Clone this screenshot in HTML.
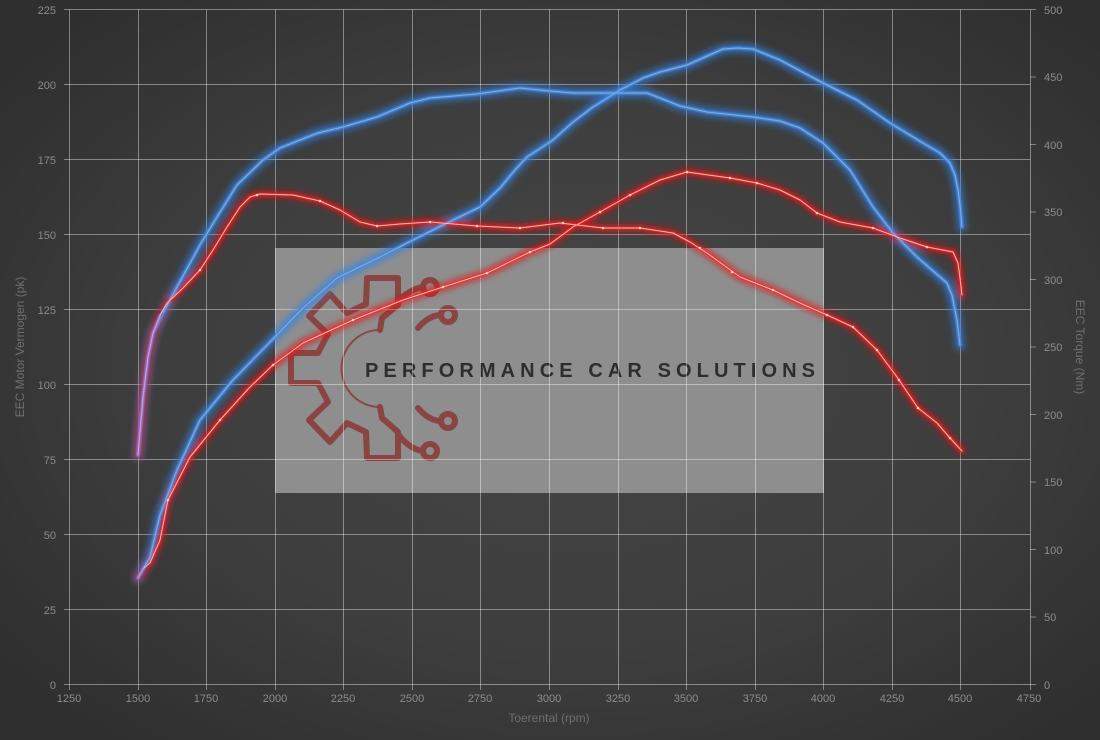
<!DOCTYPE html>
<html><head><meta charset="utf-8"><style>
html,body{margin:0;padding:0;background:#3a3a3a;}
svg{display:block;font-family:"Liberation Sans",sans-serif;}
</style></head><body>
<svg width="1100" height="740" viewBox="0 0 1100 740" xmlns="http://www.w3.org/2000/svg">
<defs>
<radialGradient id="bg" cx="52%" cy="50%" r="65%">
<stop offset="0" stop-color="#474747"/>
<stop offset="0.6" stop-color="#3d3d3d"/>
<stop offset="1" stop-color="#2f2f2f"/>
</radialGradient>
<filter id="glow" x="-10%" y="-10%" width="120%" height="120%"><feGaussianBlur stdDeviation="3"/></filter>
<filter id="soft" x="-10%" y="-10%" width="120%" height="120%"><feGaussianBlur stdDeviation="0.7"/></filter>
</defs>
<rect width="1100" height="740" fill="url(#bg)"/>

<!-- watermark box -->
<rect x="275" y="248" width="549" height="245" fill="#8e8e8e"/>

<!-- gear logo -->
<g fill="none" stroke="#8a3f3c" stroke-width="6" stroke-linejoin="round" stroke-linecap="round" opacity="0.92">
<path d="M398,305 L398,278 L367,278 L366,304 L347,313 L330,294 L309,316 L328,334 L318,353 L291,353 L291,383 L318,383 L328,402 L309,420 L330,442 L347,423 L366,432 L367,458 L398,458 L398,432"/>
<path d="M398,305 L382,318 L380,330"/>
<path d="M398,432 L382,418 L380,407"/>
<path d="M398,302 Q408,290 422,287"/>
<path d="M418,328 Q428,316 440,315"/>
<path d="M418,408 Q428,420 440,421"/>
<path d="M398,434 Q408,448 422,451"/>
<circle cx="430" cy="287" r="7"/>
<circle cx="448" cy="315" r="7"/>
<circle cx="448" cy="421" r="7"/>
<circle cx="430" cy="451" r="7"/>
</g>
<path d="M380,330 A38,38 0 0 0 380,407" fill="none" stroke="#8a3f3c" stroke-width="2" opacity="0.9"/>
<text x="365" y="377" font-size="20" font-weight="bold" fill="#2e2e2e" textLength="450" lengthAdjust="spacing">PERFORMANCE CAR SOLUTIONS</text>

<!-- grid -->
<g stroke="#ffffff" stroke-opacity="0.4" stroke-width="1">
<line x1="69.5" y1="9.5" x2="69.5" y2="690"/>
<line x1="138.5" y1="9.5" x2="138.5" y2="690"/>
<line x1="206.5" y1="9.5" x2="206.5" y2="690"/>
<line x1="275.5" y1="9.5" x2="275.5" y2="690"/>
<line x1="343.5" y1="9.5" x2="343.5" y2="690"/>
<line x1="412.5" y1="9.5" x2="412.5" y2="690"/>
<line x1="480.5" y1="9.5" x2="480.5" y2="690"/>
<line x1="549.5" y1="9.5" x2="549.5" y2="690"/>
<line x1="618.5" y1="9.5" x2="618.5" y2="690"/>
<line x1="686.5" y1="9.5" x2="686.5" y2="690"/>
<line x1="755.5" y1="9.5" x2="755.5" y2="690"/>
<line x1="823.5" y1="9.5" x2="823.5" y2="690"/>
<line x1="892.5" y1="9.5" x2="892.5" y2="690"/>
<line x1="960.5" y1="9.5" x2="960.5" y2="690"/>
<line x1="1030.5" y1="9.5" x2="1030.5" y2="690"/>
<line x1="64" y1="9.5" x2="1030" y2="9.5"/>
<line x1="64" y1="84.5" x2="1030" y2="84.5"/>
<line x1="64" y1="159.5" x2="1030" y2="159.5"/>
<line x1="64" y1="234.5" x2="1030" y2="234.5"/>
<line x1="64" y1="309.5" x2="1030" y2="309.5"/>
<line x1="64" y1="384.5" x2="1030" y2="384.5"/>
<line x1="64" y1="459.5" x2="1030" y2="459.5"/>
<line x1="64" y1="534.5" x2="1030" y2="534.5"/>
<line x1="64" y1="609.5" x2="1030" y2="609.5"/>
<line x1="64" y1="684.5" x2="1030" y2="684.5"/>
<line x1="1030" y1="9.5" x2="1036" y2="9.5"/>
<line x1="1030" y1="77" x2="1036" y2="77"/>
<line x1="1030" y1="144.5" x2="1036" y2="144.5"/>
<line x1="1030" y1="212" x2="1036" y2="212"/>
<line x1="1030" y1="279.5" x2="1036" y2="279.5"/>
<line x1="1030" y1="347" x2="1036" y2="347"/>
<line x1="1030" y1="414.5" x2="1036" y2="414.5"/>
<line x1="1030" y1="482" x2="1036" y2="482"/>
<line x1="1030" y1="549.5" x2="1036" y2="549.5"/>
<line x1="1030" y1="617" x2="1036" y2="617"/>
<line x1="1030" y1="684.5" x2="1036" y2="684.5"/>
</g>

<!-- tick labels -->
<g font-size="11" fill="#8c8c8c">
<g text-anchor="end">
<text x="56" y="14">225</text>
<text x="56" y="89">200</text>
<text x="56" y="164">175</text>
<text x="56" y="239">150</text>
<text x="56" y="314">125</text>
<text x="56" y="389">100</text>
<text x="56" y="464">75</text>
<text x="56" y="539">50</text>
<text x="56" y="614">25</text>
<text x="56" y="689">0</text>
</g>
<g text-anchor="start">
<text x="1044" y="14">500</text>
<text x="1044" y="81">450</text>
<text x="1044" y="149">400</text>
<text x="1044" y="216">350</text>
<text x="1044" y="284">300</text>
<text x="1044" y="351">250</text>
<text x="1044" y="419">200</text>
<text x="1044" y="486">150</text>
<text x="1044" y="554">100</text>
<text x="1044" y="621">50</text>
<text x="1044" y="689">0</text>
</g>
<g text-anchor="middle">
<text x="69" y="702">1250</text>
<text x="138" y="702">1500</text>
<text x="206" y="702">1750</text>
<text x="275" y="702">2000</text>
<text x="343" y="702">2250</text>
<text x="412" y="702">2500</text>
<text x="480" y="702">2750</text>
<text x="549" y="702">3000</text>
<text x="618" y="702">3250</text>
<text x="686" y="702">3500</text>
<text x="755" y="702">3750</text>
<text x="823" y="702">4000</text>
<text x="892" y="702">4250</text>
<text x="960" y="702">4500</text>
<text x="1029" y="702">4750</text>
</g>
</g>
<g font-size="12" fill="#6f6f6f">
<text x="549" y="722" text-anchor="middle">Toerental (rpm)</text>
<text transform="translate(24,347) rotate(-90)" text-anchor="middle">EEC Motor Vermogen (pk)</text>
<text transform="translate(1076,347) rotate(90)" text-anchor="middle">EEC Torque (Nm)</text>
</g>

<!-- curves -->
<g fill="none" stroke-linejoin="round" stroke-linecap="round">
<g filter="url(#glow)">
<path stroke="#2f7fe6" stroke-width="11" stroke-opacity="0.55" d="M138,455 L143,397 L148,357 L153,333 L163,313 L177,287 L200,245 L217,217 L237,185 L263,160 L280,148 L300,140 L318,133 L343,127 L377,117 L410,103 L430,98 L477,94 L520,88 L550,91 L573,93 L620,93 L647,93 L660,98 L680,106 L707,112 L753,117 L780,121 L800,128 L823,143 L850,170 L873,207 L893,233 L917,257 L940,277 L947,283 L952,295 L957,320 L960,345"/>
<path stroke="#2f7fe6" stroke-width="11" stroke-opacity="0.55" d="M138,578 L150,557 L160,515 L177,470 L200,420 L233,380 L270,342 L303,308 L337,278 L380,257 L413,240 L447,223 L480,207 L500,188 L515,170 L527,157 L553,140 L573,122 L593,107 L620,90 L643,78 L660,72 L687,65 L705,57 L723,49 L738,48 L753,49 L780,60 L823,83 L857,100 L890,123 L923,143 L940,153 L950,163 L955,175 L958,190 L960,205 L962,227"/>
<path stroke="#e61414" stroke-width="8" stroke-opacity="0.65" d="M138,455 L143,397 L148,357 L153,333 L160,315 L167,303 L183,288 L200,270 L213,250 L227,227 L240,207 L250,197 L260,194 L293,195 L320,201 L340,210 L360,222 L377,226 L400,224 L430,222 L477,226 L520,228 L560,223 L603,228 L640,228 L660,231 L673,233 L690,242 L707,253 L740,277 L773,290 L800,303 L827,315 L853,327 L877,350 L897,377 L918,408 L937,423 L950,438 L962,451"/>
<path stroke="#e61414" stroke-width="8" stroke-opacity="0.65" d="M138,578 L150,563 L160,540 L168,500 L190,457 L220,420 L250,387 L273,365 L303,343 L353,320 L403,300 L443,287 L487,273 L530,252 L550,244 L573,227 L600,212 L630,195 L660,180 L687,172 L730,178 L757,183 L780,190 L800,200 L817,213 L840,222 L873,228 L900,238 L927,247 L953,252 L958,263 L960,278 L962,295"/>
</g>
<g filter="url(#soft)">
<path stroke="#4a8ad8" stroke-width="3.5" d="M138,455 L143,397 L148,357 L153,333 L163,313 L177,287 L200,245 L217,217 L237,185 L263,160 L280,148 L300,140 L318,133 L343,127 L377,117 L410,103 L430,98 L477,94 L520,88 L550,91 L573,93 L620,93 L647,93 L660,98 L680,106 L707,112 L753,117 L780,121 L800,128 L823,143 L850,170 L873,207 L893,233 L917,257 L940,277 L947,283 L952,295 L957,320 L960,345"/>
<path stroke="#4a8ad8" stroke-width="3.5" d="M138,578 L150,557 L160,515 L177,470 L200,420 L233,380 L270,342 L303,308 L337,278 L380,257 L413,240 L447,223 L480,207 L500,188 L515,170 L527,157 L553,140 L573,122 L593,107 L620,90 L643,78 L660,72 L687,65 L705,57 L723,49 L738,48 L753,49 L780,60 L823,83 L857,100 L890,123 L923,143 L940,153 L950,163 L955,175 L958,190 L960,205 L962,227"/>
<path stroke="#ec2a2a" stroke-width="2.6" stroke-opacity="0.85" d="M167,303 L183,288 L200,270 L213,250 L227,227 L240,207 L250,197 L260,194 L293,195 L320,201 L340,210 L360,222 L377,226 L400,224 L430,222 L477,226 L520,228 L560,223 L603,228 L640,228 L660,231 L673,233 L690,242 L707,253 L740,277 L773,290 L800,303 L827,315 L853,327 L877,350 L897,377 L918,408 L937,423 L950,438 L962,451"/>
<path stroke="#ec2a2a" stroke-width="2.6" stroke-opacity="0.85" d="M150,563 L160,540 L168,500 L190,457 L220,420 L250,387 L273,365 L303,343 L353,320 L403,300 L443,287 L487,273 L530,252 L550,244 L573,227 L600,212 L630,195 L660,180 L687,172 L730,178 L757,183 L780,190 L800,200 L817,213 L840,222 L873,228 L900,238 L927,247 L953,252 L958,263 L960,278 L962,295"/>
<!-- purple overlap at start -->
<path stroke="#9a78c8" stroke-width="3.5" d="M138,455 L143,397 L148,357 L153,333 L160,316"/>
<path stroke="#9a78c8" stroke-width="3" d="M138,578 L144,568"/>
</g>
<path stroke="#86b8ee" stroke-width="1" stroke-opacity="0.8" d="M163,313 L177,287 L200,245 L217,217 L237,185 L263,160 L280,148 L300,140 L318,133 L343,127 L377,117 L410,103 L430,98 L477,94 L520,88 L550,91 L573,93 L620,93 L647,93 L660,98 L680,106 L707,112 L753,117 L780,121 L800,128 L823,143 L850,170 L873,207 L893,233 L917,257 L940,277 L947,283 L952,295 L957,320 L960,345"/>
<path stroke="#86b8ee" stroke-width="1" stroke-opacity="0.8" d="M138,578 L150,557 L160,515 L177,470 L200,420 L233,380 L270,342 L303,308 L337,278 L380,257 L413,240 L447,223 L480,207 L500,188 L515,170 L527,157 L553,140 L573,122 L593,107 L620,90 L643,78 L660,72 L687,65 L705,57 L723,49 L738,48 L753,49 L780,60 L823,83 L857,100 L890,123 L923,143 L940,153 L950,163 L955,175 L958,190 L960,205 L962,227"/>
<path stroke="#c8b0f0" stroke-width="1" stroke-opacity="0.8" d="M138,455 L143,397 L148,357 L153,333 L160,316"/>
<path stroke="#ffb4a8" stroke-width="1" d="M160,315 L167,303 L183,288 L200,270 L213,250 L227,227 L240,207 L250,197 L260,194 L293,195 L320,201 L340,210 L360,222 L377,226 L400,224 L430,222 L477,226 L520,228 L560,223 L603,228 L640,228 L660,231 L673,233 L690,242 L707,253 L740,277 L773,290 L800,303 L827,315 L853,327 L877,350 L897,377 L918,408 L937,423 L950,438 L962,451"/>
<path stroke="#ffb4a8" stroke-width="1" d="M144,568 L150,563 L160,540 L168,500 L190,457 L220,420 L250,387 L273,365 L303,343 L353,320 L403,300 L443,287 L487,273 L530,252 L550,244 L573,227 L600,212 L630,195 L660,180 L687,172 L730,178 L757,183 L780,190 L800,200 L817,213 L840,222 L873,228 L900,238 L927,247 L953,252 L958,263 L960,278 L962,295"/>
</g>
<g fill="#ffc8c0">
<circle cx="200" cy="270" r="1.3"/><circle cx="257" cy="195" r="1.3"/><circle cx="320" cy="201" r="1.3"/><circle cx="377" cy="226" r="1.3"/><circle cx="430" cy="222" r="1.3"/><circle cx="477" cy="226" r="1.3"/><circle cx="520" cy="228" r="1.3"/><circle cx="563" cy="223" r="1.3"/><circle cx="603" cy="228" r="1.3"/><circle cx="640" cy="228" r="1.3"/><circle cx="700" cy="248" r="1.3"/><circle cx="732" cy="272" r="1.3"/><circle cx="773" cy="290" r="1.3"/><circle cx="827" cy="315" r="1.3"/><circle cx="853" cy="327" r="1.3"/><circle cx="877" cy="350" r="1.3"/><circle cx="899" cy="380" r="1.3"/><circle cx="918" cy="408" r="1.3"/><circle cx="950" cy="438" r="1.3"/>
<circle cx="168" cy="500" r="1.3"/><circle cx="220" cy="420" r="1.3"/><circle cx="273" cy="365" r="1.3"/><circle cx="353" cy="320" r="1.3"/><circle cx="443" cy="287" r="1.3"/><circle cx="487" cy="273" r="1.3"/><circle cx="530" cy="252" r="1.3"/><circle cx="600" cy="212" r="1.3"/><circle cx="630" cy="195" r="1.3"/><circle cx="687" cy="172" r="1.3"/><circle cx="730" cy="178" r="1.3"/><circle cx="757" cy="183" r="1.3"/><circle cx="817" cy="213" r="1.3"/><circle cx="873" cy="228" r="1.3"/><circle cx="927" cy="247" r="1.3"/>
</g>
</svg>
</body></html>
